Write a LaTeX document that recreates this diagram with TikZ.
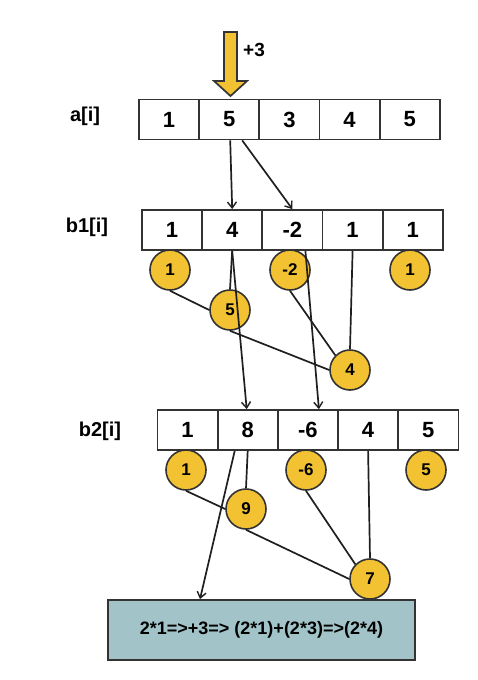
\documentclass[tikz,border=0pt]{standalone}
\usepackage{fontspec}
\setmainfont{Liberation Sans}
\usetikzlibrary{arrows.meta}
\definecolor{cyel}{RGB}{242,194,50}
\definecolor{cbox}{RGB}{162,196,201}
\definecolor{cline}{RGB}{51,51,51}
\tikzset{
  cell/.style={draw=cline, line width=1.8pt, fill=white, minimum width=60.2pt, minimum height=40pt, inner sep=0pt, font=\fontsize{22}{24}\selectfont\bfseries},
  circ/.style={circle, draw=cline, line width=1.6pt, fill=cyel, minimum size=40pt, inner sep=0pt, font=\fontsize{17}{18}\selectfont\bfseries},
  lbl/.style={font=\fontsize{20}{24}\selectfont\bfseries, inner sep=0pt},
  conn/.style={line width=1.7pt, draw=black!88},
  arr/.style={conn, -{Straight Barb[length=6pt,width=9pt,line width=1.4pt]}},
}
\begin{document}
\begin{tikzpicture}[x=1pt,y=-1pt]
\useasboundingbox (0,0) rectangle (478,680);
% big arrow
\draw[draw=cline, line width=1.7pt, fill=cyel, line join=miter]
  (224,32) -- (237,32) -- (237,81) -- (247,81) -- (230.5,96) -- (214,81) -- (224,81) -- cycle;
\node[lbl, font=\fontsize{19}{22}\selectfont\bfseries] (plus) at (254,50) {+3};
% labels
\node[lbl] (la) at (85,116) {a[i]};
\node[lbl] (lb1) at (87,227) {b1[i]};
\node[lbl] (lb2) at (100,431) {b2[i]};
% array a
\node[cell] (a1) at (169,119.5) {1};
\node[cell] (a2) at (229.2,119.5) {5};
\node[cell] (a3) at (289.4,119.5) {3};
\node[cell] (a4) at (349.6,119.5) {4};
\node[cell] (a5) at (409.8,119.5) {5};
% array b1
\node[cell] (b11) at (172,230) {1};
\node[cell] (b12) at (232.2,230) {4};
\node[cell] (b13) at (292.4,230) {-2};
\node[cell] (b14) at (352.6,230) {1};
\node[cell] (b15) at (412.8,230) {1};
% array b2
\node[cell] (b21) at (187.5,430) {1};
\node[cell] (b22) at (247.7,430) {8};
\node[cell] (b23) at (307.9,430) {-6};
\node[cell] (b24) at (368.1,430) {4};
\node[cell] (b25) at (428.3,430) {5};
% circles b1
\node[circ] (c1) at (170,270) {1};
\node[circ] (c5) at (230,310) {5};
\node[circ] (cm2) at (290,270) {-2};
\node[circ] (c4) at (350,370) {4};
\node[circ] (c1r) at (410,270) {1};
% circles b2
\node[circ] (d1) at (186,470) {1};
\node[circ] (d9) at (246,509) {9};
\node[circ] (dm6) at (306,470) {-6};
\node[circ] (d7) at (370,579) {7};
\node[circ] (d5) at (426,470) {5};
% result box
\node[draw=cline, line width=1.8pt, fill=cbox, minimum width=307pt, minimum height=60pt, inner sep=0pt, font=\fontsize{18}{20}\selectfont\bfseries] (box) at (261.5,630) {2*1=>+3=> (2*1)+(2*3)=>(2*4)};
% b1 lines
\draw[conn] (c1.south) -- (c5.west);
\draw[conn] (c5.south) -- (c4.west);
\draw[conn] (b12.south) -- (c5.north);
\draw[conn] (cm2.south) -- (c4.north west);
\draw[conn] (b14.south) -- (c4.north);
% b2 lines
\draw[conn] (d1.south) -- (d9.west);
\draw[conn] (d9.south) -- (d7.west);
\draw[conn] (b22.south) -- (d9.north);
\draw[conn] (dm6.south) -- (d7.north west);
\draw[conn] (b24.south) -- (d7.north);
% arrows a -> b1
\draw[arr] ([xshift=1pt]a2.south) -- (b12.north);
\draw[arr] ([xshift=13pt]a2.south) -- (b13.north);
% arrows b1 -> b2
\draw[arr] (b12.south) -- ([xshift=-1pt]b22.north);
\draw[arr] ([xshift=13pt]b13.south) -- ([xshift=11pt]b23.north);
% arrow b2 -> box
\draw[arr] ([xshift=-13pt]b22.south) -- ([xshift=-61.5pt]box.north);
\end{tikzpicture}
\end{document}
